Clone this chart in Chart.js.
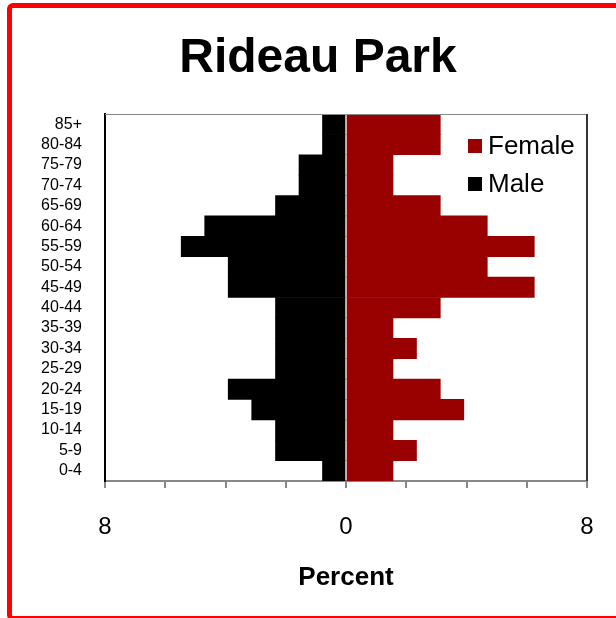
<!DOCTYPE html>
<html>
<head>
<meta charset="utf-8">
<script src="https://cdn.jsdelivr.net/npm/chart.js@4"></script>
<style>
  body { margin: 0; background: #fff; }
  #wrap { position: relative; width: 616px; height: 618px; overflow: hidden; }
  #frame {
    position: absolute; left: 7px; top: 3px; width: 700px; height: 618px;
    box-sizing: border-box; border: 5px solid #ff0000; border-radius: 6px;
    pointer-events: none;
  }
</style>
</head>
<body>
<div id="wrap">
  <canvas id="pyramid" width="616" height="618"></canvas>
  <div id="frame"></div>
</div>
<script>
// ikäryhmät ylhäältä alas
const ageGroups = ['85+', '80-84', '75-79', '70-74', '65-69', '60-64', '55-59', '50-54', '45-49',
  '40-44', '35-39', '30-34', '25-29', '20-24', '15-19', '10-14', '5-9', '0-4'];
const femalePct = [3.13, 3.13, 1.56, 1.56, 3.13, 4.69, 6.25, 4.69, 6.25,
  3.13, 1.56, 2.34, 1.56, 3.13, 3.91, 1.56, 2.34, 1.56];
const malePct = [0.78, 0.78, 1.56, 1.56, 2.34, 4.69, 5.47, 3.91, 3.91,
  2.34, 2.34, 2.34, 2.34, 3.91, 3.13, 2.34, 2.34, 0.78];
const xMin = -8, xMax = 8, xStep = 2;
const shownTicks = [-8, 0, 8];

const fontFam = '"Liberation Sans", Arial, sans-serif';

// kehys ylä- ja oikealle reunalle
const areaBorder = {
  id: 'areaBorder',
  afterDatasetsDraw(chart) {
    const { ctx, chartArea: a } = chart;
    ctx.save();
    ctx.strokeStyle = '#888';
    ctx.lineWidth = 1;
    ctx.beginPath();
    ctx.moveTo(a.left, a.top + 0.5);
    ctx.lineTo(a.right, a.top + 0.5);
    ctx.stroke();
    ctx.strokeStyle = '#333';
    ctx.lineWidth = 2;
    ctx.beginPath();
    ctx.moveTo(a.right, a.top);
    ctx.lineTo(a.right, a.bottom);
    ctx.stroke();
    ctx.restore();
  }
};

// selite kuvaajan sisään
const innerLegend = {
  id: 'innerLegend',
  afterDraw(chart) {
    const { ctx, chartArea: a } = chart;
    ctx.save();
    ctx.font = '26px ' + fontFam;
    ctx.textBaseline = 'middle';
    chart.data.datasets.forEach((ds, i) => {
      const y = a.top + 32 + i * 38;
      const x = a.right - 119;
      ctx.fillStyle = ds.backgroundColor;
      ctx.fillRect(x, y - 7, 14, 14);
      ctx.fillStyle = '#000';
      ctx.fillText(ds.label, x + 20, y + 1);
    });
    ctx.restore();
  }
};

new Chart(document.getElementById('pyramid'), {
  type: 'bar',
  data: {
    labels: ageGroups,
    datasets: [
      { label: 'Female', data: femalePct, backgroundColor: '#990000', borderWidth: 0 },
      { label: 'Male', data: malePct.map(v => -v), backgroundColor: '#000000', borderWidth: 0 }
    ]
  },
  options: {
    indexAxis: 'y',
    responsive: false,
    animation: false,
    datasets: { bar: { categoryPercentage: 1, barPercentage: 1 } },
    layout: { padding: { left: 20, right: 0, top: 0, bottom: 0 } },
    plugins: {
      legend: { display: false },
      tooltip: { enabled: false },
      title: {
        display: true,
        text: 'Rideau Park',
        color: '#000',
        font: { family: fontFam, size: 48, weight: 'bold' },
        padding: { top: 30, bottom: 26.4 }
      }
    },
    scales: {
      x: {
        stacked: true,
        min: xMin,
        max: xMax,
        afterFit(scale) { scale.height = 137; },
        ticks: {
          stepSize: xStep,
          autoSkip: false,
          maxRotation: 0,
          padding: 3,
          color: '#000',
          // iso riviväli siirtää luvut alemmas
          font: { family: fontFam, size: 24, lineHeight: '72px' },
          callback: v => shownTicks.includes(v) ? String(Math.abs(v)) : ''
        },
        grid: { drawOnChartArea: false, drawTicks: true, tickLength: 7, color: '#888', lineWidth: 2 },
        border: { color: '#888', width: 2 },
        title: {
          display: true,
          text: 'Percent',
          color: '#000',
          font: { family: fontFam, size: 26, weight: 'bold' },
          padding: { top: 0, bottom: 24.4 }
        }
      },
      y: {
        stacked: true,
        afterFit(scale) { scale.width = 85; },
        ticks: {
          autoSkip: false,
          padding: 23,
          color: '#000',
          font: { family: fontFam, size: 16 }
        },
        grid: { display: false, drawTicks: false },
        border: { color: '#000', width: 2 }
      },
      // tyhjä akseli oikealle, jotta piirtoalue päättyy oikeaan kohtaan
      yRight: {
        type: 'category',
        position: 'right',
        afterFit(scale) { scale.width = 29; },
        ticks: { display: false },
        grid: { display: false, drawTicks: false },
        border: { display: false }
      }
    }
  },
  plugins: [areaBorder, innerLegend]
});
</script>
</body>
</html>
